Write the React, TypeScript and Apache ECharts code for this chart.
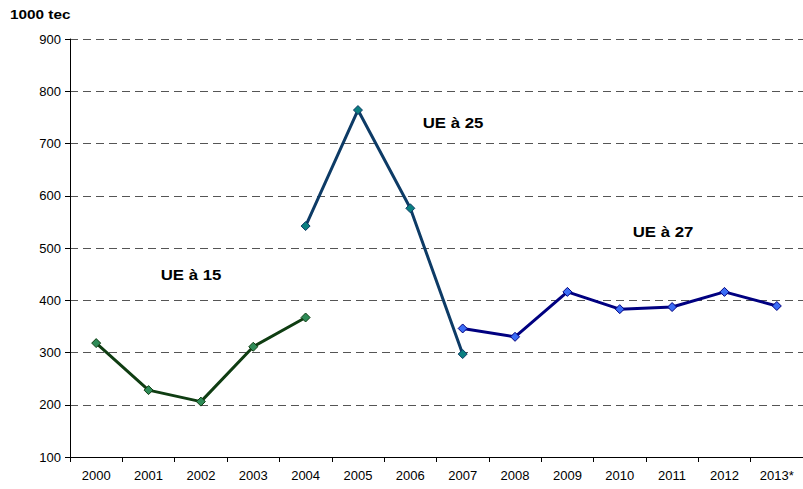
import React, { useEffect, useRef } from "react";
import * as echarts from "echarts";

const categories = ["2000", "2001", "2002", "2003", "2004", "2005", "2006", "2007", "2008", "2009", "2010", "2011", "2012", "2013*"];
const ue15 = [318, 228, 206, 311, 367, null, null, null, null, null, null, null, null, null];
const ue25 = [null, null, null, null, 542, 764, 576, 297, null, null, null, null, null, null];
const ue27 = [null, null, null, null, null, null, null, 346, 330, 416, 383, 387, 416, 389];
const yTicks = { min: 100, max: 900, interval: 100 };

export default function App() {
  const ref = useRef<HTMLDivElement>(null);
  useEffect(() => {
    const chart = echarts.init(ref.current!, null, { renderer: "svg" });
    const font = "Liberation Sans, Arial, sans-serif";
    const mk = (name: string, data: (number | null)[], line: string, fill: string, border: string) => ({
      name,
      type: "line",
      data,
      connectNulls: false,
      symbol: "diamond",
      symbolSize: 9,
      lineStyle: { color: line, width: 3 },
      itemStyle: { color: fill, borderColor: border, borderWidth: 1 },
    });
    const label = (text: string, x: number, y: number) => ({
      type: "text",
      x,
      y,
      scaleX: 1.12,
      style: { text, font: `bold 15px ${font}`, fill: "#000", align: "center", verticalAlign: "middle" },
    });
    chart.setOption({
      animation: false,
      backgroundColor: "#ffffff",
      grid: { left: 70, right: 0, top: 39, bottom: 32 },
      xAxis: {
        type: "category",
        data: categories,
        boundaryGap: true,
        axisLine: { lineStyle: { color: "#000", width: 1 } },
        axisTick: { show: true, length: 5, lineStyle: { color: "#000" } },
        axisLabel: { color: "#000", fontSize: 13, fontFamily: font, margin: 12 },
      },
      yAxis: {
        type: "value",
        min: yTicks.min,
        max: yTicks.max,
        interval: yTicks.interval,
        axisLine: { show: true, lineStyle: { color: "#000", width: 1 } },
        axisTick: { show: true, inside: false, length: 5, lineStyle: { color: "#000" } },
        axisLabel: { color: "#000", fontSize: 13, fontFamily: font, margin: 9 },
        splitLine: { show: true, lineStyle: { color: "#555", type: [8, 5], width: 1 } },
      },
      graphic: [
        { type: "text", x: 10, y: 14, scaleX: 1.18, style: { text: "1000 tec", font: `bold 13px ${font}`, fill: "#000", align: "left", verticalAlign: "middle" } },
        label("UE à 15", 191, 275),
        label("UE à 25", 453, 123),
        label("UE à 27", 663, 232),
      ],
      series: [
        mk("UE à 15", ue15, "#0f3d12", "#2e8b57", "#0f3d12"),
        mk("UE à 25", ue25, "#0d3b66", "#0a7f80", "#0d3b66"),
        mk("UE à 27", ue27, "#000080", "#3b6cf5", "#000080"),
      ],
    });
    return () => chart.dispose();
  }, []);
  return <div ref={ref} style={{ width: 803, height: 489, position: "absolute", left: 0, top: 0 }} />;
}
